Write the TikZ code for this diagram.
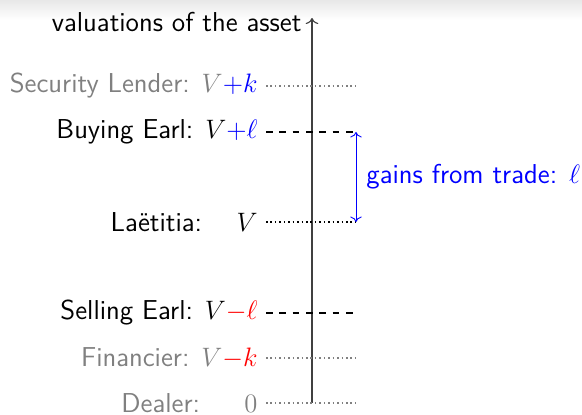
\documentclass[tikz,border=0pt,11pt]{standalone}
\usepackage{amsmath,amssymb}
\usepackage{xcolor}
\usepackage{tikz}
\usetikzlibrary{arrows.meta,positioning,calc}
\definecolor{valgrey}{HTML}{808080}
\definecolor{valaxis}{HTML}{404040}
\begin{document}
\begin{tikzpicture}[
  x=0.45pt, y=-0.45pt,
  font=\fontsize{12.3}{14}\selectfont\sffamily,
  who/.style={anchor=east, inner sep=0pt},
  outsider/.style={who, text=valgrey},
  faint/.style={valgrey, dash pattern=on 0.7pt off 1.3pt, line width=0.7pt},
  earl/.style={black, dash pattern=on 3pt off 3pt, line width=0.8pt},
  mid/.style={black, dash pattern=on 0.7pt off 1.3pt, line width=0.7pt},
  gain/.style={blue, <->, line width=0.4pt},
]
\useasboundingbox (0,0) rectangle (582,415);
\shade[top color=black!9, bottom color=white] (0,0) rectangle (582,20);
% vertical axis
\coordinate (axbot) at (312,403);
\coordinate (axtop) at (312,18);
\draw[->, valaxis, line width=0.5pt] (axbot) -- (axtop);
\node[who, anchor=east] (axlab) at (302,22) {valuations of the asset};
% valuation levels
\node[outsider] (lender) at (258,86) {Security Lender: $V\textcolor{blue}{+k}$};
\node[who] (buyer) at (258,132) {Buying Earl: $V\textcolor{blue}{+\ell}$};
\node[who] (laet) at (258,222) {La\"etitia:\hspace{15.5pt}$V$\hspace{13pt}};
\node[who] (seller) at (258,313) {Selling Earl: $V\textcolor{red}{-\ell}$};
\node[outsider] (fin) at (258,358) {Financier: $V\textcolor{red}{-k}$};
\node[outsider] (dealer) at (258,403) {Dealer:\hspace{20pt}$0$};
\foreach \nm/\sty in {lender/faint, buyer/earl, laet/mid, seller/earl, fin/faint, dealer/faint}
  \draw[\sty] ($(\nm.east)+(8,0)$) coordinate (\nm L) -- ($(\nm.east)+(98,0)$) coordinate (\nm R);
% gains from trade
\draw[gain] (buyerR) -- (laetR);
\node[blue, anchor=west, inner sep=0pt] (gainlab) at ($(buyerR)!0.5!(laetR)+(10,0)$) {gains from trade: $\ell$};
\end{tikzpicture}
\end{document}
